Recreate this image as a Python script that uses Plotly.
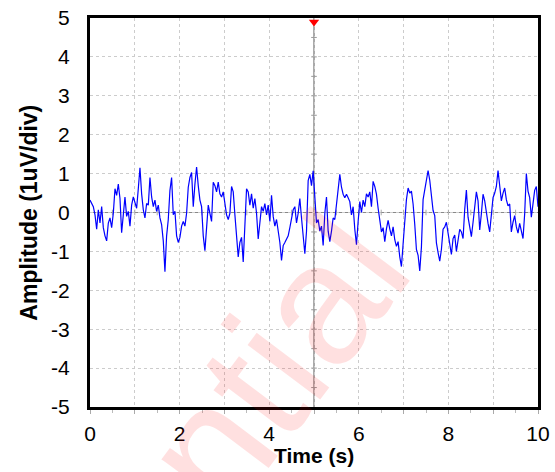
import numpy as np
import plotly.graph_objects as go

amp_first_half = [
    0.32, 0.23, 0.15, -0.06, -0.43, 0.07, -0.27, 0.15, -0.39, -0.60,
    -0.73, -0.27, -0.14, -0.39, -0.02, 0.61, 0.44, 0.73, 0.36, -0.52,
    -0.02, 0.40, -0.10, 0.03, -0.35, 0.19, 0.40, 0.23, 0.11, 0.61,
    1.15, 0.48, 0.07, -0.14, 0.23, 0.19, 0.90, 0.40, 0.15, 0.32,
    0.03, 0.19, -0.14, -0.31, -0.73, -1.52, -0.60, -0.18, 0.57, 0.90,
    -0.06, 0.03, -0.60, -0.77, -0.64, -0.35, -0.23, -0.35, -0.02, 0.65,
    0.90, 1.03, 0.15, 0.73, 1.17, 0.69, 0.32, 0.15, -0.60, -0.98,
    -0.39, 0.19, -0.02, -0.23, 0.78, 0.69, 0.53, 0.78, 0.48, 0.40,
    0.53, 0.19, -0.06, -0.18, -0.02, 0.67, 0.53, -0.06, -0.56, -1.14,
    -0.77, -0.64, -1.27, -0.39, 0.61, 0.53, 0.19, 0.48, 0.11, 0.36,
    -0.02, -0.68, -0.18, 0.15, 0.03, 0.23, -0.06, 0.19, -0.23, 0.44,
    -0.10, -0.35, -0.18, -0.43, -0.77, -1.23, -0.85, -0.77, -0.68, -0.60,
    -0.39, -0.18, 0.07, 0.15, -0.27, -0.02, 0.36, -0.14, -0.64, -1.06,
    -0.48, 0.82, 0.98, 0.69, 1.07,
]
amp_second_half = [
    0.40, -0.27, -0.18, -0.48, -0.35, -0.85, -0.02, 0.40, -0.48, -0.75,
    -0.48, -0.14, -0.18, 0.23, 0.69, 0.98, 0.65, 0.47, 0.38, 0.47,
    0.38, 0.28, -0.06, 0.15, -0.43, -0.83, -0.23, 0.28, 0.00, 0.32,
    0.15, 0.48, 0.40, 0.53, 0.15, 0.80, 0.67, 0.47, 0.11, -0.23,
    -0.50, -0.39, -0.75, -0.42, -0.20, -0.42, -0.60, -0.37, -0.70, -0.87,
    -0.75, -1.14, -1.39, -0.81, -0.14, 0.33, 0.63, 0.50, 0.55, 0.22,
    -0.31, -0.95, -1.10, -1.50, -0.89, 0.33, 0.58, 0.83, 1.08, 0.83,
    0.50, 0.05, -0.08, -0.78, -1.03, -1.25, -0.95, -0.43, -0.37, -0.25,
    -0.53, -0.78, -1.08, -0.67, -0.58, -1.00, -0.75, -0.43, -0.50, -0.67,
    0.08, 0.58, -0.12, -0.37, -0.62, -0.25, 0.22, 0.53, 0.30, -0.45,
    -0.03, 0.47, 0.30, -0.03, -0.28, -0.50, -0.03, 0.38, 0.50, 0.67,
    1.08, 0.72, 0.30, 0.50, 0.63, 0.33, 0.17, 0.22, -0.50, -0.25,
    -0.08, -0.37, -0.53, -0.28, -0.50, -0.67, -0.03, 1.00, 0.55, 0.38,
    -0.12, 0.17, 0.57, 0.67, 0.15,
]
amplitude = amp_first_half + amp_second_half
time_s = np.linspace(0, 10, len(amplitude))

x_tick_vals = [0, 1, 2, 3, 4, 5, 6, 7, 8, 9, 10]
x_tick_text = ["0", "", "2", "", "4", "", "6", "", "8", "", "10"]
y_tick_vals = [-5, -4, -3, -2, -1, 0, 1, 2, 3, 4, 5]
y_tick_text = ["-5", "-4", "-3", "-2", "-1", "0", "1", "2", "3", "4", "5"]

cursor_time = 5
cursor_marker_y = 4.9
cursor_tick_y = [-4.5, -4, -3.5, -3, -2.5, -2, -1.5, -1, -0.5, 0.5, 1, 1.5, 2, 2.5, 3, 3.5, 4, 4.5]
zero_tick_x = [0.5, 1, 1.5, 2, 2.5, 3, 3.5, 4, 4.5, 5.5, 6, 6.5, 7, 7.5, 8, 8.5, 9, 9.5]

x_title = "<b>Time (s)</b>"
y_title = "<b>Amplitude (1uV/div)</b>"
watermark = "Confidential"

FONT = "Arial, Liberation Sans, sans-serif"

fig = go.Figure()

fig.add_shape(type="line", x0=cursor_time, x1=cursor_time, y0=-5, y1=5,
              line=dict(color="#555555", width=1), layer="below")
fig.add_shape(type="line", x0=0, x1=10, y0=0, y1=0,
              line=dict(color="#888888", width=1), layer="below")

fig.add_trace(go.Scatter(x=[cursor_time] * len(cursor_tick_y), y=cursor_tick_y, mode="markers",
                         marker=dict(symbol="line-ew", size=4, line=dict(color="#999999", width=1)),
                         hoverinfo="skip", showlegend=False))
fig.add_trace(go.Scatter(x=zero_tick_x, y=[0] * len(zero_tick_x), mode="markers",
                         marker=dict(symbol="line-ns", size=4, line=dict(color="#aaaaaa", width=1)),
                         hoverinfo="skip", showlegend=False))

fig.add_trace(go.Scatter(x=time_s, y=amplitude, mode="lines",
                         line=dict(color="#0000ff", width=1.2), showlegend=False))

fig.add_trace(go.Scatter(x=[cursor_time], y=[cursor_marker_y], mode="markers",
                         marker=dict(symbol="triangle-down", size=9, color="#ff0000"),
                         cliponaxis=False, showlegend=False))

fig.add_annotation(text=watermark, xref="paper", yref="paper",
                   x=0.012, y=-0.49, xanchor="center", yanchor="middle",
                   textangle=-53, showarrow=False,
                   font=dict(family=FONT, size=172, color="rgba(255,0,0,0.12)"))

fig.add_annotation(text=x_title, xref="paper", yref="paper", x=0.5, y=-0.125,
                   xanchor="center", yanchor="middle", showarrow=False,
                   font=dict(family=FONT, size=21, color="black"))
fig.add_annotation(text=y_title, xref="paper", yref="paper", x=-0.138, y=0.5,
                   xanchor="center", yanchor="middle", showarrow=False, textangle=-90,
                   font=dict(family=FONT, size=23, color="black"))

fig.update_layout(
    width=555, height=472,
    margin=dict(l=90, r=17, t=18, b=65),
    paper_bgcolor="white", plot_bgcolor="white",
    font=dict(family=FONT, color="black"),
    xaxis=dict(range=[0, 10], tickmode="array", tickvals=x_tick_vals, ticktext=x_tick_text,
               automargin=False,
               showgrid=True, gridcolor="#cccccc", griddash="dot", gridwidth=1,
               showline=True, linecolor="black", linewidth=3, mirror=True,
               ticks="outside", ticklen=4, tickcolor="#aaaaaa", tickwidth=1,
               minor=dict(dtick=0.5, ticks="outside", ticklen=3, tickcolor="#bbbbbb", showgrid=False),
               tickfont=dict(size=21), zeroline=False, ticklabelstandoff=2),
    yaxis=dict(range=[-5, 5], tickmode="array", tickvals=y_tick_vals, ticktext=y_tick_text,
               automargin=False,
               showgrid=True, gridcolor="#cccccc", griddash="dot", gridwidth=1,
               showline=True, linecolor="black", linewidth=3, mirror=True,
               ticks="", ticklabelstandoff=13, zeroline=False,
               tickfont=dict(size=21)),
)

fig.write_html("out.html", config={"displayModeBar": False},
               post_script="document.body.style.margin='0';document.body.style.overflow='hidden';")
